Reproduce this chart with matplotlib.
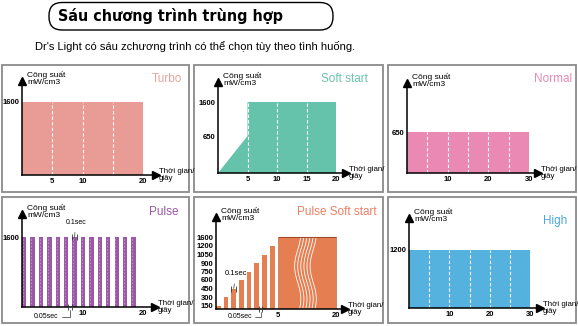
import numpy as np
import matplotlib
matplotlib.use('Agg')
from matplotlib import pyplot as plt
from matplotlib.patches import Rectangle, FancyBboxPatch
from matplotlib.transforms import blended_transform_factory

W, H = 578, 326

# program data (time in s, power in mW/cm3)
turbo_time = [0, 20]
turbo_power = 1600
soft_time = [0, 5, 5, 20, 20]
soft_power = [0, 650, 1600, 1600, 0]
normal_time = [0, 30]
normal_power = 650
pulse_start = [0.0, 1.39, 2.78, 4.17, 5.56, 6.95, 8.34, 9.73, 11.12, 12.51, 13.9, 15.29, 16.68, 18.07]
pulse_width = 0.72
pulse_power = 1600
pss_start = [0.0, 0.62, 1.24, 1.86, 2.48, 3.1, 3.72, 4.34]
pss_width = 0.38
pss_power = [150, 300, 450, 600, 750, 900, 1050, 1200]
pss_hold = [5, 20]
pss_hold_power = 1600
pss_levels = [150, 300, 450, 600, 750, 900, 1050, 1200, 1600]
high_time = [0, 30]
high_power = 1200

c_turbo, c_soft, c_normal = '#e99b96', '#66c3ab', '#ea89b3'
c_pulse, c_pss, c_high = '#9b58a6', '#e57f51', '#55b1de'

plt.rcParams['font.family'] = ['Liberation Sans', 'DejaVu Sans']

fig = plt.figure(figsize=(W / 100, H / 100), dpi=100)
fig.patch.set_facecolor('white')

deco = fig.add_axes([0, 0, 1, 1])
deco.set_xlim(0, W)
deco.set_ylim(H, 0)
deco.axis('off')

# heading
deco.add_patch(FancyBboxPatch((49, 2.5), 284, 27.5, boxstyle='round,pad=0,rounding_size=13',
                              fc='white', ec='black', lw=1))
deco.text(58, 16.5, 'Sáu chương trình trùng hợp', fontsize=11.5, fontweight='bold',
          family=['DejaVu Sans'], fontstretch='condensed', va='center', ha='left')
deco.text(35, 47, "Dr's Light có sáu zchương trình có thể chọn tùy theo tình huống.",
          fontsize=8, va='center', ha='left')

# panel frames
for x0, x1 in [(2, 189), (194, 383), (388, 576)]:
    for y0, y1 in [(65, 192), (197, 323)]:
        deco.add_patch(Rectangle((x0, y0), x1 - x0, y1 - y0, fc='none', ec='#8a8a8a', lw=1.3))


def piecewise(vals, pxs):
    vals = np.asarray(vals, float)
    pxs = np.asarray(pxs, float)
    slope = (pxs[-1] - pxs[-2]) / (vals[-1] - vals[-2])
    v = np.append(vals, vals[-1] + 1e5)
    p = np.append(pxs, pxs[-1] + 1e5 * slope)
    return (lambda x: np.interp(x, v, p)), (lambda y: np.interp(y, p, v))


def panel(origin, tip, xref, yref, name, name_xy, name_color, xticks, yticks):
    x0, y0 = origin
    xt, yt = tip
    ax = fig.add_axes([x0 / W, 1 - y0 / H, (xt - x0) / W, (y0 - yt) / H])
    ax.patch.set_alpha(0)
    fx, ix = piecewise(*xref)
    fy, iy = piecewise(*yref)
    ax.set_xscale('function', functions=(fx, ix))
    ax.set_yscale('function', functions=(fy, iy))
    xmax = float(ix(xt - x0))
    ymax = float(iy(y0 - yt))
    ax.set_xlim(0, xmax)
    ax.set_ylim(0, ymax)
    for s in ['top', 'right']:
        ax.spines[s].set_visible(False)
    for s in ['left', 'bottom']:
        ax.spines[s].set_linewidth(1.1)
        ax.spines[s].set_zorder(5)
    ax.plot([xmax], [0], marker='>', ms=5.5, color='black', clip_on=False, zorder=6)
    ax.plot([0], [ymax], marker='^', ms=5.5, color='black', clip_on=False, zorder=6)
    ax.set_xticks(xticks, [str(t) for t in xticks])
    ax.set_yticks(yticks, [str(t) for t in yticks])
    ax.minorticks_off()
    ax.tick_params(length=0, pad=2, labelsize=5.5)
    for lab in ax.get_xticklabels() + ax.get_yticklabels():
        lab.set_fontweight('bold')
    ax.annotate('Công suất\nmW/cm3', xy=(0, 1), xycoords='axes fraction', xytext=(5, 3),
                textcoords='offset pixels', fontsize=6, va='center', ha='left', linespacing=1.0)
    ax.annotate('Thời gian/\ngiây', xy=(1, 0), xycoords='axes fraction', xytext=(3, 0),
                textcoords='offset pixels', fontsize=5.7, va='center', ha='left', linespacing=1.0)
    deco.text(name_xy[0], name_xy[1], name, color=name_color, fontsize=8.5,
              ha='right', va='center')
    return ax


def dashes(ax, xs, top):
    ax.vlines(xs, 0, top, colors='white', linestyles=(0, (3, 2)), lw=0.8, zorder=3)


# Turbo
ax = panel((22, 175), (156, 81), ([0, 20], [0, 121]), ([0, 1600], [0, 73]),
           'Turbo', (182, 79), '#eca39e', [5, 10, 20], [1600])
ax.bar(turbo_time[0], turbo_power, width=turbo_time[1] - turbo_time[0], align='edge', color=c_turbo)
dashes(ax, [5, 10, 15], turbo_power)

# Soft start
ax = panel((218, 173), (346, 82), ([0, 20], [0, 118]), ([0, 650, 1600], [0, 37, 71]),
           'Soft start', (368, 79), '#6cc4aa', [5, 10, 15, 20], [650, 1600])
ax.fill(soft_time, soft_power, color=c_soft, lw=0)
dashes(ax, [5, 10, 15], 1600)

# Normal
ax = panel((407, 173), (538, 83), ([0, 30], [0, 122]), ([0, 650], [0, 41]),
           'Normal', (572, 79), '#e88bb5', [10, 20, 30], [650])
ax.bar(normal_time[0], normal_power, width=normal_time[1] - normal_time[0], align='edge', color=c_normal)
dashes(ax, [5, 10, 15, 20, 25], normal_power)

# Pulse
ax = panel((22, 307), (155, 214), ([0, 20], [0, 121]), ([0, 1600], [0, 70]),
           'Pulse', (178, 212), c_pulse, [10, 20], [1600])
ax.bar(pulse_start, [pulse_power] * len(pulse_start), width=pulse_width, align='edge', color=c_pulse)
ax.vlines([s + pulse_width * 0.2 for s in pulse_start], 0, pulse_power, colors='#b98cc2',
          linestyles=(0, (1.5, 1.5)), lw=0.8, zorder=3)
s6 = pulse_start[6]
ax.plot([s6, s6 + pulse_width], [pulse_power] * 2, '|', color='#333333', ms=4, mew=0.6, zorder=6)
ax.annotate('0.1sec', xy=(s6 + pulse_width / 2, pulse_power), xytext=(1, 15), textcoords='offset pixels',
            fontsize=5, ha='center', va='center',
            arrowprops=dict(arrowstyle='-', lw=0.5, color='#333333', shrinkA=3, shrinkB=0))
g0 = pulse_start[5] + pulse_width
g1 = pulse_start[6]
ax.plot([g0, g1], [0, 0], '|', color='#333333', ms=4, mew=0.6, zorder=6, clip_on=False)
ax.annotate('0.05sec', xy=((g0 + g1) / 2, 0), xytext=(-24, -10), textcoords='offset pixels',
            fontsize=5, ha='center', va='center', annotation_clip=False,
            arrowprops=dict(arrowstyle='-', lw=0.5, color='#333333', shrinkA=11, shrinkB=2,
                            connectionstyle='angle,angleA=0,angleB=90,rad=0'))

# Pulse Soft start
lvl_px = [0, 3.3, 12, 20.5, 29, 37.5, 46, 54.5, 63, 72]
ax = panel((216, 309), (345, 217), ([0, 5, 20], [0, 62, 120]), ([0] + pss_levels, lvl_px),
           'Pulse Soft start', (377, 212), '#ef7f65', [5, 20], pss_levels)
ax.bar(pss_start, pss_power, width=pss_width, align='edge', color=c_pss)
ax.bar(pss_hold[0], pss_hold_power, width=pss_hold[1] - pss_hold[0], align='edge', color=c_pss,
       edgecolor='#b55a35', lw=0.4)
ax.hlines(pss_hold_power, pss_hold[0], pss_hold[1], color='#9c4a2a', lw=0.8, zorder=4)
bt = blended_transform_factory(ax.transData, ax.transAxes)
top_frac = 72 / 92
yy = np.linspace(0, top_frac, 60)
for c in [10.1, 10.9, 11.7, 12.5, 13.3, 14.1]:
    ax.plot(c + 0.8 * np.sin(2 * np.pi * yy / top_frac * 1.1 + 0.6), yy, color='white', lw=0.6,
            transform=bt, zorder=3)
s2 = pss_start[2]
ax.plot([s2, s2 + pss_width], [pss_power[2]] * 2, '|', color='#333333', ms=4, mew=0.6, zorder=6)
ax.annotate('0.1sec', xy=(s2 + pss_width / 2, pss_power[2]), xytext=(2, 15), textcoords='offset pixels',
            fontsize=5.5, ha='center', va='center',
            arrowprops=dict(arrowstyle='-', lw=0.5, color='#333333', shrinkA=3, shrinkB=0))
g0 = pss_start[5] + pss_width
g1 = pss_start[6]
ax.plot([g0, g1], [0, 0], '|', color='#333333', ms=4, mew=0.6, zorder=6, clip_on=False)
ax.annotate('0.05sec', xy=((g0 + g1) / 2, 0), xytext=(-21, -8), textcoords='offset pixels',
            fontsize=5, ha='center', va='center', annotation_clip=False,
            arrowprops=dict(arrowstyle='-', lw=0.5, color='#333333', shrinkA=11, shrinkB=2,
                            connectionstyle='angle,angleA=0,angleB=90,rad=0'))

# High
ax = panel((409, 308), (540, 218), ([0, 30], [0, 121]), ([0, 1200], [0, 58]),
           'High', (567, 221), '#4aa8dc', [10, 20, 30], [1200])
ax.bar(high_time[0], high_power, width=high_time[1] - high_time[0], align='edge', color=c_high)
dashes(ax, [5, 10, 15, 20, 25], high_power)

fig.savefig('out.png', dpi=100)
